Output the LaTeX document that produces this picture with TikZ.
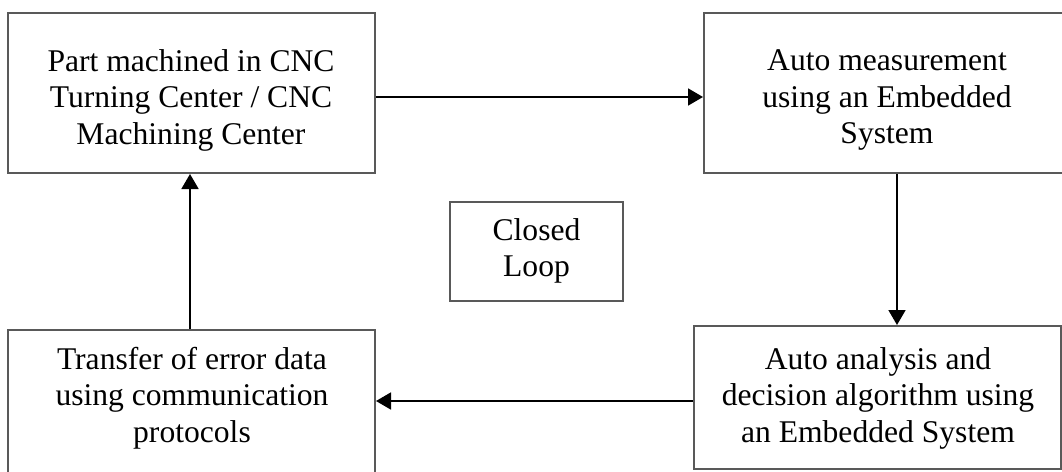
\documentclass[tikz,border=0pt]{standalone}
\usepackage{fontspec}
\setmainfont{Liberation Serif}
\usetikzlibrary{arrows.meta}
\begin{document}
\begin{tikzpicture}[x=1pt,y=-1pt,
  box/.style={draw=black!65,line width=2pt,rectangle,inner sep=0pt},
  txt/.style={align=center,font=\fontsize{31.6}{36.5}\selectfont,inner sep=0pt},
  arr/.style={line width=1.8pt,-{Triangle[length=15pt,width=17pt]}}]
\clip (0,0) rectangle (1062,471);
\fill[white] (0,0) rectangle (1062,471);
% boxes
\node[box,minimum width=367pt,minimum height=160pt] (A) at (191.5,93) {};
\node[box,minimum width=366pt,minimum height=160pt] (B) at (887,93) {};
\node[box,minimum width=367pt,minimum height=143pt] (C) at (877.5,397.5) {};
\node[box,minimum width=367pt,minimum height=150pt] (D) at (191.5,405) {};
\node[box,minimum width=173pt,minimum height=99pt] (E) at (536.5,251.5) {};
% texts
\node[txt] (At) at (191,100) {Part machined in CNC\\Turning Center / CNC\\Machining Center};
\node[txt] (Bt) at (887,100) {Auto measurement\\using an Embedded\\System};
\node[txt] (Ct) at (878,398) {Auto analysis and\\decision algorithm using\\an Embedded System};
\node[txt] (Dt) at (192,398) {Transfer of error data\\using communication\\protocols};
\node[txt] (Et) at (536.5,251) {Closed\\Loop};
% connectors
\coordinate (ab) at (0,97);
\coordinate (bc) at (897,0);
\coordinate (cd) at (0,401);
\coordinate (da) at (190,0);
\draw[arr] (A.east |- ab) -- (B.west |- ab);
\draw[arr] (B.south -| bc) -- (C.north -| bc);
\draw[arr] (C.west |- cd) -- (D.east |- cd);
\draw[arr] (D.north -| da) -- (A.south -| da);
\end{tikzpicture}
\end{document}
